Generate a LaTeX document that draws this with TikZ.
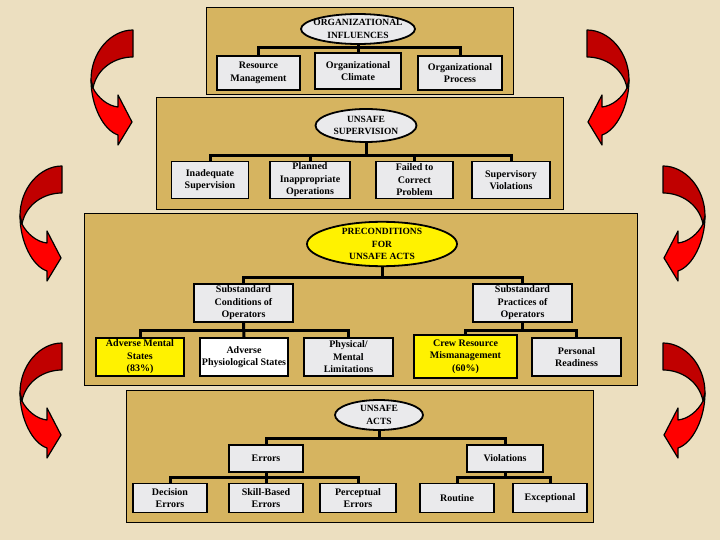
\documentclass[tikz,border=0pt]{standalone}
\usepackage{fontspec}
\setmainfont{Liberation Serif}
\usetikzlibrary{shapes.geometric}
\definecolor{parchment}{RGB}{236,223,192}
\definecolor{panelgold}{RGB}{214,180,96}
\definecolor{boxgray}{RGB}{234,234,236}
\definecolor{darkred}{RGB}{192,0,0}
\definecolor{brightred}{RGB}{255,0,0}
\tikzset{
twistarrow/.pic={
\filldraw[fill=darkred,line width=1.2pt,line join=round] (0,0) .. controls (-22,0) and (-42,22) .. (-42,50) -- (-40,58) .. controls (-36,38) and (-18,27) .. (0,27) -- cycle;
\filldraw[fill=brightred,line width=1.2pt,line join=round] (-42,50) .. controls (-42,75) and (-30,100) .. (-15,105) -- (-15,115) -- (-1,92) -- (-15,65) -- (-15,77) .. controls (-25,76) and (-35,68) .. (-40,58) -- cycle;
}
}
\begin{document}
\begin{tikzpicture}[x=1pt,y=-1pt,
panel/.style={draw,line width=0.8pt,fill=panelgold},
box/.style={draw,line width=1.8pt,fill=boxgray,align=center,inner sep=1pt,minimum width=88pt,minimum height=38pt,font=\fontsize{10}{12.5}\selectfont\bfseries},
hub/.style={ellipse,draw,line width=1.8pt,fill=boxgray,align=center,inner xsep=-8pt,inner ysep=0pt,font=\fontsize{9.5}{12.5}\selectfont\bfseries},
hot/.style={fill=yellow},
bus/.style={line width=3pt}
]
\fill[parchment] (0,0) rectangle (720,540);
\useasboundingbox (0,0) rectangle (720,540);
% curved arrows down the sides
\pic at (133,30) {twistarrow};
\pic at (62,166) {twistarrow};
\pic at (62,343) {twistarrow};
\pic[xscale=-1] at (587,30) {twistarrow};
\pic[xscale=-1] at (663,166) {twistarrow};
\pic[xscale=-1] at (663,343) {twistarrow};
% panels
\draw[panel] (206,7) rectangle (513,94);
\draw[panel] (156,97) rectangle (563,209);
\draw[panel] (84,213) rectangle (637,385);
\draw[panel] (126,390) rectangle (593,522);

% organizational influences
\node[hub,minimum width=114pt,minimum height=30pt] (orgInf) at (358,29) {ORGANIZATIONAL\\INFLUENCES};
\node[box,minimum width=83pt,minimum height=34pt] (resMgmt) at (258.5,73) {Resource\\Management};
\node[box,minimum width=86pt,minimum height=36pt] (orgClimate) at (358,71) {Organizational\\Climate};
\node[box,minimum width=84pt,minimum height=34pt] (orgProcess) at (460,73) {Organizational\\Process};
\coordinate (busOrg) at (358,48);
\draw[bus] (resMgmt.north) |- (busOrg) -| (orgProcess.north);
\draw[bus] (orgInf.south) -- (orgClimate.north);

% unsafe supervision
\node[hub,minimum width=101pt,minimum height=33pt] (unsafeSup) at (366,125.5) {UNSAFE\\SUPERVISION};
\node[box,minimum width=77pt,minimum height=37pt] (inadSup) at (210,180) {Inadequate\\Supervision};
\node[box,minimum width=80pt,minimum height=37pt] (plannedOps) at (310,180) {Planned\\Inappropriate\\Operations};
\node[box,minimum width=77pt,minimum height=37pt] (failedCorr) at (414.5,180) {Failed to\\Correct\\Problem};
\node[box,minimum width=78pt,minimum height=37pt] (supViol) at (511,180) {Supervisory\\Violations};
\coordinate (busSup) at (366,156);
\draw[bus] (inadSup.north) |- (busSup) -| (supViol.north);
\draw[bus] (unsafeSup.south) -- (busSup);
\draw[bus] (plannedOps.north) -- (plannedOps.north |- busSup);
\draw[bus] (failedCorr.north) -- (failedCorr.north |- busSup);

% preconditions
\node[hub,hot,minimum width=150pt,minimum height=44pt] (preCond) at (382,244) {PRECONDITIONS\\FOR\\UNSAFE ACTS};
\node[box,minimum width=99pt] (subCond) at (243.5,303) {Substandard\\Conditions of\\Operators};
\node[box,minimum width=99pt] (subPract) at (522.5,303) {Substandard\\Practices of\\Operators};
\node[box,hot] (advMental) at (140,357) {Adverse Mental\\States\\(83\%)};
\node[box,fill=white] (advPhys) at (244,357) {Adverse\\Physiological States};
\node[box,minimum width=89pt] (physMental) at (348.5,357) {Physical/\\Mental\\Limitations};
\node[box,hot,minimum width=103pt,minimum height=43pt] (crewRes) at (465.5,356.5) {Crew Resource\\Mismanagement\\(60\%)};
\node[box,minimum width=89pt] (persReady) at (576.5,357) {Personal\\Readiness};
\coordinate (busPre) at (382,277);
\coordinate (busCond) at (243.5,330);
\coordinate (busPract) at (522.5,330);
\draw[bus] (subCond.north) |- (busPre) -| (subPract.north);
\draw[bus] (preCond.south) -- (busPre);
\draw[bus] (advMental.north) |- (busCond) -| (physMental.north);
\draw[bus] (subCond.south) -- (advPhys.north);
\draw[bus] (crewRes.north) |- (busPract) -| (persReady.north);
\draw[bus] (subPract.south) -- (busPract);

% unsafe acts
\node[hub,minimum width=88pt,minimum height=30pt] (unsafeActs) at (379,415) {UNSAFE\\ACTS};
\node[box,minimum width=74pt,minimum height=27pt] (errors) at (266,458.5) {Errors};
\node[box,minimum width=76pt,minimum height=27pt] (violations) at (505,458.5) {Violations};
\node[box,minimum width=74pt,minimum height=29pt] (decErr) at (170,498) {Decision\\Errors};
\node[box,minimum width=74pt,minimum height=29pt] (skillErr) at (266,498) {Skill-Based\\Errors};
\node[box,minimum width=76pt,minimum height=29pt] (percErr) at (358,498) {Perceptual\\Errors};
\node[box,minimum width=74pt,minimum height=29pt] (routine) at (457,498) {Routine};
\node[box,minimum width=74pt,minimum height=29pt] (exceptional) at (550,498) {Exceptional};
\coordinate (busActs) at (379,438);
\coordinate (busErr) at (266,477);
\coordinate (busViol) at (505,477);
\draw[bus] (errors.north) |- (busActs) -| (violations.north);
\draw[bus] (unsafeActs.south) -- (busActs);
\draw[bus] (decErr.north) |- (busErr) -| (percErr.north);
\draw[bus] (errors.south) -- (skillErr.north);
\draw[bus] (routine.north) |- (busViol) -| (exceptional.north);
\draw[bus] (violations.south) -- (busViol);
\end{tikzpicture}
\end{document}
